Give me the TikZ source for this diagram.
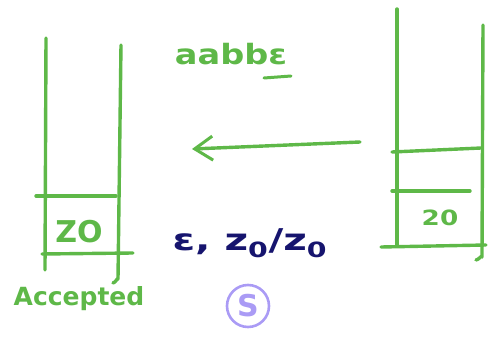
\documentclass[tikz,border=0pt]{standalone}
\usepackage{fontspec}
\setmainfont{DejaVu Sans}
\usetikzlibrary{arrows.meta}
\definecolor{pen}{RGB}{94,184,72}
\definecolor{navy}{RGB}{22,20,110}
\definecolor{lav}{RGB}{170,155,245}
\tikzset{
  stroke/.style={draw=pen, line width=3.4pt, line cap=round, line join=round},
  greentxt/.style={text=pen, font=\fontsize{25}{30}\selectfont\bfseries},
  stacktxt/.style={text=pen, font=\fontsize{30}{34}\selectfont\bfseries},
}
\begin{document}
\begin{tikzpicture}[x=1pt,y=-1pt]
\useasboundingbox (0,0) rectangle (496,340);
% left stack
\draw[stroke] (46,38) -- (45,270);
\draw[stroke] (121,45) -- (118,279) to[out=90,in=0] (113,283);
\draw[stroke] (36,196) -- (116,196);
\draw[stroke] (42,254) -- (133,253);
\node[stacktxt] (zl) at (79,232) {ZO};
\node[greentxt] (acc) at (79,299) {Accepted};
% right stack
\draw[stroke] (397,9) -- (397,245);
\draw[stroke] (483,25) -- (482,257) to[out=90,in=0] (476,260);
\draw[stroke] (392,152) -- (481,148);
\draw[stroke] (392,191) -- (470,191);
\draw[stroke] (381,247) -- (486,245);
\node[stacktxt, font=\fontsize{21}{24}\selectfont\bfseries, xscale=1.25, transform shape] (zr) at (440,218) {20};
% arrow
\coordinate (as) at (360,142);
\coordinate (ae) at (192,149);
\draw[stroke, -{Straight Barb[length=18pt,width=24pt,line width=3pt]}] (as) -- (ae);
% top label
\node[greentxt, font=\fontsize{28}{34}\selectfont\bfseries, xscale=1.2, transform shape] (inp) at (231,54) {aabbε};
\draw[stroke, line width=3pt] (264,78) -- (291,76);
% transition label
\node[text=navy, font=\fontsize{30}{34}\selectfont\bfseries, xscale=1.35, transform shape] (tr) at (250,243) {ε, z\textsubscript{0}/z\textsubscript{0}};
\node[draw=lav, line width=2.6pt, circle, minimum size=42pt, inner sep=0pt, text=lav, font=\fontsize{30}{30}\selectfont\bfseries] (s) at (248,306) {S};
\end{tikzpicture}
\end{document}
